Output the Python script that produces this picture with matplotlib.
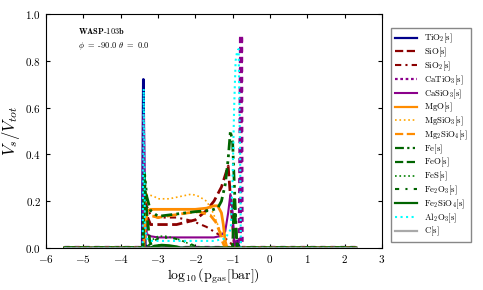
import numpy as np
import matplotlib
matplotlib.use("Agg")
import matplotlib.pyplot as plt

plt.rcParams['font.family'] = 'serif'
plt.rcParams['font.serif'] = ['cmr10', 'DejaVu Serif']
plt.rcParams['mathtext.fontset'] = 'cm'
plt.rcParams['axes.formatter.use_mathtext'] = True

# values (log10 p_gas, V_s/V_tot)
tio2_x = [-5.5, -3.42, -3.39, -3.37, -3.34, -3.2, -1.2, -0.95, -0.88, -0.84, -0.8, 2.3]
tio2_y = [0.0, 0.0, 0.72, 0.3, 0.01, 0.0, 0.0, 0.0, 0.03, 0.01, 0.0, 0.0]

sio_x = [-5.5, -3.4, -3.36, -3.3, -3.2, -3.0, -2.5, -2.0, -1.7, -1.5, -1.3, -1.2, -1.12, -1.05, -0.95, 2.3]
sio_y = [0.0, 0.0, 0.18, 0.14, 0.1, 0.1, 0.1, 0.12, 0.16, 0.2, 0.26, 0.31, 0.35, 0.2, 0.0, 0.0]

sio2_x = [-5.5, -3.4, -3.36, -3.3, -3.2, -3.0, -2.5, -2.2, -2.0, -1.7, -1.5, -1.3, -1.1, -1.0, -0.92, 2.3]
sio2_y = [0.0, 0.0, 0.25, 0.18, 0.14, 0.13, 0.13, 0.12, 0.11, 0.09, 0.07, 0.05, 0.03, 0.01, 0.0, 0.0]

catio3_x = [-5.5, -0.81, -0.79, -0.775, -0.76, 2.3]
catio3_y = [0.0, 0.0, 0.45, 0.91, 0.0, 0.0]

casio3_x = [-5.5, -3.41, -3.38, -3.35, -3.3, -3.2, -3.0, -2.0, -1.5, -1.35, -1.2, -1.12, -1.06, -1.0, -0.95, -0.9, -0.86, -0.82, 2.3]
casio3_y = [0.0, 0.0, 0.57, 0.2, 0.06, 0.05, 0.045, 0.045, 0.045, 0.05, 0.07, 0.15, 0.23, 0.15, 0.0, 0.03, 0.0, 0.0, 0.0]

mgo_x = [-5.5, -3.38, -3.34, -3.3, -3.2, -3.0, -2.5, -2.0, -1.7, -1.5, -1.4, -1.3, -1.25, -1.2, -1.15, 2.3]
mgo_y = [0.0, 0.0, 0.12, 0.155, 0.165, 0.165, 0.165, 0.165, 0.17, 0.18, 0.18, 0.15, 0.1, 0.03, 0.0, 0.0]

mgsio3_x = [-5.5, -3.38, -3.34, -3.3, -3.1, -3.0, -2.7, -2.4, -2.1, -1.9, -1.7, -1.55, -1.45, -1.35, -1.25, -1.15, 2.3]
mgsio3_y = [0.0, 0.0, 0.18, 0.23, 0.22, 0.21, 0.21, 0.22, 0.23, 0.22, 0.2, 0.16, 0.12, 0.08, 0.04, 0.0, 0.0]

mg2sio4_x = [-5.5, -3.38, -3.34, -3.3, -3.1, -3.0, -2.6, -2.2, -1.9, -1.6, -1.45, -1.35, -1.28, -1.2, 2.3]
mg2sio4_y = [0.0, 0.0, 0.1, 0.14, 0.135, 0.13, 0.14, 0.15, 0.155, 0.14, 0.11, 0.07, 0.03, 0.0, 0.0]

fe_x = [-5.5, -3.4, -3.36, -3.3, -3.2, -3.0, -2.5, -2.0, -1.6, -1.4, -1.3, -1.2, -1.12, -1.06, -1.0, -0.95, -0.9, -0.85, 2.3]
fe_y = [0.0, 0.0, 0.32, 0.22, 0.16, 0.135, 0.145, 0.155, 0.16, 0.17, 0.2, 0.27, 0.38, 0.5, 0.45, 0.25, 0.05, 0.0, 0.0]

feo_x = [-5.5, -3.4, -3.36, -3.3, -3.22, -3.15, -1.0, -0.96, -0.92, -0.88, 2.3]
feo_y = [0.0, 0.0, 0.3, 0.15, 0.03, 0.0, 0.0, 0.22, 0.1, 0.0, 0.0]

fes_x = [-5.5, -3.3, -3.2, -3.0, -2.8, -2.5, -2.2, -2.0, 2.3]
fes_y = [0.0, 0.0, 0.03, 0.05, 0.05, 0.04, 0.02, 0.0, 0.0]

fe2o3_x = [-5.5, -3.3, -3.2, -3.0, -2.7, -2.4, -2.1, -1.9, 2.3]
fe2o3_y = [0.0, 0.0, 0.02, 0.04, 0.045, 0.035, 0.015, 0.0, 0.0]

fe2sio4_x = [-5.5, -3.2, -3.1, -2.9, -2.7, -2.5, -2.4, 2.3]
fe2sio4_y = [0.0, 0.0, 0.008, 0.012, 0.01, 0.005, 0.0, 0.0]

al2o3_x = [-5.5, -3.41, -3.38, -3.35, -3.3, -3.2, -3.0, -2.5, -2.0, -1.5, -1.2, -1.05, -1.0, -0.96, -0.92, -0.88, -0.84, -0.8, -0.78, 2.3]
al2o3_y = [0.0, 0.0, 0.68, 0.1, 0.04, 0.03, 0.03, 0.03, 0.03, 0.03, 0.04, 0.08, 0.3, 0.6, 0.8, 0.84, 0.85, 0.4, 0.0, 0.0]

c_x = [-5.5, 2.3]
c_y = [0.0, 0.0]

series = [
    (tio2_x, tio2_y, r'$\mathrm{TiO_2[s]}$', 'darkblue', '-', 2.0),
    (sio_x, sio_y, r'$\mathrm{SiO[s]}$', 'darkred', '--', 2.0),
    (sio2_x, sio2_y, r'$\mathrm{SiO_2[s]}$', 'darkred', (0, (3, 2, 1, 2)), 1.5),
    (catio3_x, catio3_y, r'$\mathrm{CaTiO_3[s]}$', 'darkmagenta', (0, (1.2, 1.2)), 3.0),
    (casio3_x, casio3_y, r'$\mathrm{CaSiO_3[s]}$', 'darkmagenta', '-', 1.5),
    (mgo_x, mgo_y, r'$\mathrm{MgO[s]}$', 'darkorange', '-', 2.0),
    (mgsio3_x, mgsio3_y, r'$\mathrm{MgSiO_3[s]}$', 'orange', ':', 1.2),
    (mg2sio4_x, mg2sio4_y, r'$\mathrm{Mg_2SiO_4[s]}$', 'darkorange', '--', 2.0),
    (fe_x, fe_y, r'$\mathrm{Fe[s]}$', 'darkgreen', (0, (4, 1.5, 1, 1.5, 1, 1.5)), 2.0),
    (feo_x, feo_y, r'$\mathrm{FeO[s]}$', 'darkgreen', '--', 2.0),
    (fes_x, fes_y, r'$\mathrm{FeS[s]}$', 'green', ':', 1.2),
    (fe2o3_x, fe2o3_y, r'$\mathrm{Fe_2O_3[s]}$', 'darkgreen', (0, (2, 3, 1, 3)), 1.5),
    (fe2sio4_x, fe2sio4_y, r'$\mathrm{Fe_2SiO_4[s]}$', 'darkgreen', '-', 2.0),
    (al2o3_x, al2o3_y, r'$\mathrm{Al_2O_3[s]}$', 'cyan', ':', 1.5),
    (c_x, c_y, r'$\mathrm{C[s]}$', 'darkgray', '-', 2.0),
]

fig = plt.figure(figsize=(4.83, 2.90), dpi=100)
ax = fig.add_axes([0.095, 0.145, 0.696, 0.807])

for xs, ys, lab, col, ls, lw in series:
    ax.plot(xs, ys, color=col, linestyle=ls, linewidth=lw, label=lab)

ax.set_xlim(-6, 3)
ax.set_ylim(0, 1)
ax.set_xticks(np.arange(-6, 4, 1))
ax.set_yticks(np.arange(0, 1.01, 0.2))
ax.tick_params(direction='in', top=True, right=True, labelsize=8, length=3)
ax.set_xlabel(r'$\log_{10}(\mathrm{p_{gas}[bar]})$', fontsize=10, labelpad=1)
ax.set_ylabel(r'$V_s/V_{tot}$', fontsize=12, labelpad=2)

ax.text(-5.15, 0.915, r'$\mathbf{WASP}$-$\mathbf{103b}$', fontsize=6)
ax.text(-5.15, 0.855, r'$\phi$ $\mathbf{=}$ -$\mathbf{90.0}$ $\theta$ $\mathbf{=}$ $\mathbf{0.0}$', fontsize=6)

leg = fig.legend(loc='upper left', bbox_to_anchor=(0.80, 0.918), fontsize=6.3,
                 handlelength=2.6, labelspacing=0.05, fancybox=False, edgecolor='dimgray',
                 borderpad=0.45, handletextpad=0.7)
for line in leg.get_lines():
    line.set_linewidth(min(line.get_linewidth(), 1.6))

fig.savefig('out.png', dpi=100)
